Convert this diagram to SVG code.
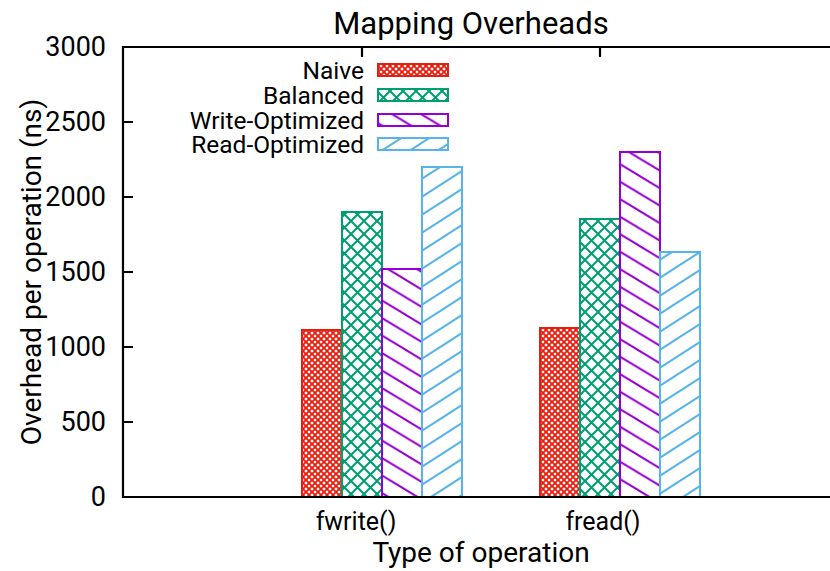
<svg xmlns="http://www.w3.org/2000/svg" width="830" height="571" viewBox="0 0 830 571">
  <style>
    text { font-family: Roboto, "Liberation Sans", Arial, sans-serif; fill: #000; }
    .tick { font-size: 27px; text-anchor: end; dominant-baseline: central; }
    .title { font-size: 31px; text-anchor: middle; }
    .axis-label { font-size: 28px; text-anchor: middle; }
    .cat { font-size: 25px; text-anchor: middle; }
    .legend-text { font-size: 24.5px; text-anchor: end; dominant-baseline: central; }
    .frame { stroke: #000; stroke-width: 2.2; fill: none; }
    .naive { fill: url(#pat-naive); stroke: #e51e10; stroke-width: 2; }
    .balanced { fill: url(#pat-balanced); stroke: #009e73; stroke-width: 2; }
    .write { fill: url(#pat-write); stroke: #9400d3; stroke-width: 2; }
    .read { fill: url(#pat-read); stroke: #56b4e9; stroke-width: 2; }
  </style>
  <defs>
    <!-- dense red cross-hatch -->
    <pattern id="pat-naive" patternUnits="userSpaceOnUse" width="6" height="6">
      <rect width="6" height="6" fill="#fff"/>
      <path d="M-1,-1 L7,7 M-1,7 L7,-1" stroke="#e51e10" stroke-width="1.9"/>
    </pattern>
    <!-- green cross-hatch -->
    <pattern id="pat-balanced" patternUnits="userSpaceOnUse" width="13" height="13">
      <rect width="13" height="13" fill="#fff"/>
      <path d="M-1,-1 L14,14 M-1,14 L14,-1" stroke="#009e73" stroke-width="2"/>
    </pattern>
    <!-- purple falling diagonals -->
    <pattern id="pat-write" patternUnits="userSpaceOnUse" width="29" height="17.5">
      <rect width="29" height="17.5" fill="#fff"/>
      <path d="M-29,-17.5 L58,35 M-29,0 L29,35 M0,-17.5 L58,17.5" stroke="#9400d3" stroke-width="2"/>
    </pattern>
    <!-- blue rising diagonals -->
    <pattern id="pat-read" patternUnits="userSpaceOnUse" width="28" height="18">
      <rect width="28" height="18" fill="#fff"/>
      <path d="M-28,36 L56,-18 M-28,18 L28,-18 M0,36 L56,0" stroke="#56b4e9" stroke-width="2"/>
    </pattern>
  </defs>

  <rect width="830" height="571" fill="#fff"/>

  <text class="title" x="471" y="34">Mapping Overheads</text>

  <!-- bars -->
  <g id="bars-fwrite">
    <rect id="fwrite-naive" class="naive" x="302" y="330" width="40" height="167"/>
    <rect id="fwrite-balanced" class="balanced" x="342" y="212" width="40" height="285"/>
    <rect id="fwrite-write" class="write" x="382" y="269" width="40" height="228"/>
    <rect id="fwrite-read" class="read" x="422" y="167" width="40" height="330"/>
  </g>
  <g id="bars-fread">
    <rect id="fread-naive" class="naive" x="540" y="328" width="40" height="169"/>
    <rect id="fread-balanced" class="balanced" x="580" y="219" width="40" height="278"/>
    <rect id="fread-write" class="write" x="620" y="152" width="40" height="345"/>
    <rect id="fread-read" class="read" x="660" y="252" width="40" height="245"/>
  </g>

  <!-- axes frame and ticks -->
  <g id="axes">
    <path class="frame" d="M830,47 H123 V497 H830"/>
    <path class="frame" d="M123,422 h10 M123,347 h10 M123,272 h10 M123,197 h10 M123,122 h10 M362,47 v10 M600,47 v10"/>
  </g>

  <g id="y-ticks">
    <text class="tick" x="106" y="497">0</text>
    <text class="tick" x="106" y="422">500</text>
    <text class="tick" x="106" y="347">1000</text>
    <text class="tick" x="106" y="272">1500</text>
    <text class="tick" x="106" y="197">2000</text>
    <text class="tick" x="106" y="122">2500</text>
    <text class="tick" x="106" y="47">3000</text>
  </g>

  <g id="x-ticks">
    <text class="cat" x="356" y="530">fwrite()</text>
    <text class="cat" x="603" y="530">fread()</text>
  </g>

  <text class="axis-label" x="481" y="562">Type of operation</text>
  <text class="axis-label" transform="translate(41,272) rotate(-90)">Overhead per operation (ns)</text>

  <!-- legend -->
  <g id="legend">
    <g id="legend-naive">
      <text class="legend-text" x="364" y="70">Naive</text>
      <rect class="naive" x="378" y="64" width="70" height="12"/>
    </g>
    <g id="legend-balanced">
      <text class="legend-text" x="364" y="95">Balanced</text>
      <rect class="balanced" x="378" y="89" width="70" height="12"/>
    </g>
    <g id="legend-write">
      <text class="legend-text" x="364" y="120">Write-Optimized</text>
      <rect class="write" x="378" y="114" width="70" height="12"/>
    </g>
    <g id="legend-read">
      <text class="legend-text" x="364" y="144">Read-Optimized</text>
      <rect class="read" x="378" y="138" width="70" height="12"/>
    </g>
  </g>
</svg>
